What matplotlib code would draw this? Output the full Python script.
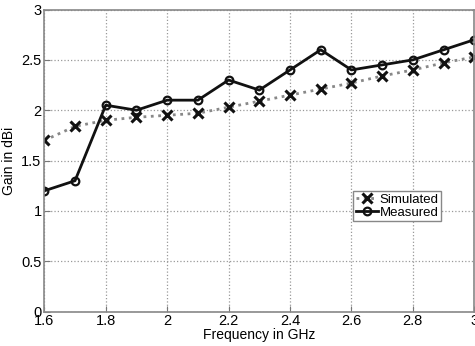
import matplotlib
matplotlib.use('Agg')
import matplotlib.pyplot as plt

freq = [1.6, 1.7, 1.8, 1.9, 2.0, 2.1, 2.2, 2.3, 2.4, 2.5, 2.6, 2.7, 2.8, 2.9, 3.0]
simulated = [1.70, 1.84, 1.90, 1.93, 1.95, 1.97, 2.03, 2.09, 2.15, 2.21, 2.27, 2.34, 2.40, 2.47, 2.53]
measured = [1.20, 1.30, 2.05, 2.00, 2.10, 2.10, 2.30, 2.20, 2.40, 2.60, 2.40, 2.45, 2.50, 2.60, 2.70]

xticks = [1.6, 1.8, 2.0, 2.2, 2.4, 2.6, 2.8, 3.0]
xticklabels = ['1.6', '1.8', '2', '2.2', '2.4', '2.6', '2.8', '3']
yticks = [0, 0.5, 1, 1.5, 2, 2.5, 3]
yticklabels = ['0', '0.5', '1', '1.5', '2', '2.5', '3']

plt.rcParams['font.family'] = ['Liberation Sans', 'DejaVu Sans']

fig = plt.figure(figsize=(4.75, 3.46), dpi=100)
ax = fig.add_axes([44.3 / 475, (346 - 311.7) / 346, (474.3 - 44.3) / 475, (311.7 - 9.5) / 346])

ax.plot(freq, simulated, linestyle=':', color='#888888', lw=2.0, marker='x',
        markersize=7, markeredgewidth=2.2, markeredgecolor='#111111', label='Simulated')
ax.plot(freq, measured, linestyle='-', color='#111111', lw=2.0, marker='o',
        markersize=5.5, markeredgewidth=1.6, markerfacecolor='none',
        markeredgecolor='#111111', label='Measured')

ax.set_xlim(1.6, 3.0)
ax.set_ylim(0, 3)
ax.set_xticks(xticks)
ax.set_xticklabels(xticklabels)
ax.set_yticks(yticks)
ax.set_yticklabels(yticklabels)
ax.tick_params(direction='in', length=4, color='#777777', labelsize=10.5, pad=2)
ax.grid(True, linestyle=':', color='#999999', lw=0.9)
for s in ax.spines.values():
    s.set_color('#888888')
    s.set_linewidth(1.2)

ax.set_xlabel('Frequency in GHz', fontsize=10, labelpad=0)
ax.set_ylabel('Gain in dBi', fontsize=10, labelpad=4)

leg = ax.legend(loc='upper left', bbox_to_anchor=(0.718, 0.40), fontsize=9.5,
                fancybox=False, framealpha=1, edgecolor='#888888',
                handlelength=1.7, handletextpad=0.1, borderpad=0.2,
                labelspacing=0.05, borderaxespad=0)
leg.get_frame().set_linewidth(1.0)

fig.savefig('out.png', dpi=100)
